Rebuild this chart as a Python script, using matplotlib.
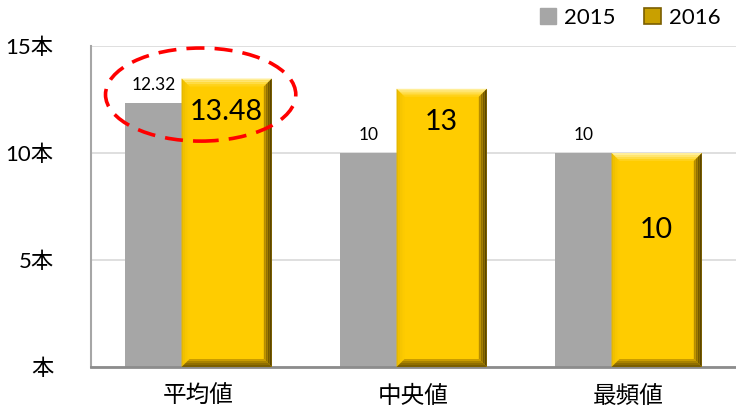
import numpy as np
import matplotlib.pyplot as plt
from matplotlib.patches import Polygon, Ellipse, Patch

plt.rcParams['font.family'] = ['Lato', 'Noto Sans CJK JP', 'DejaVu Sans']

categories = ['平均値', '中央値', '最頻値']
values_2015 = [12.32, 10, 10]
values_2016 = [13.48, 13, 10]
labels_2015 = ['12.32', '10', '10']
labels_2016 = ['13.48', '13', '10']
y_ticks = [0, 5, 10, 15]
y_tick_labels = ['本', '5本', '10本', '15本']

GRAY = '#A6A6A6'
GOLD = '#FFCC00'

W, H, DPI = 736, 411, 100
fig = plt.figure(figsize=(W / DPI, H / DPI), dpi=DPI)
ax = fig.add_axes([91 / W, 1 - 367 / H, (736 - 91) / W, (367 - 46) / H])

x = np.arange(len(categories))
bar_w = 0.42
off = 0.131

ax.set_xlim(-0.5, 2.5)
ax.set_ylim(0, 15)

# pixels per data unit, for bevels and label offsets
px_x = (736 - 91) / 3.0
px_y = (367 - 46) / 15.0

ax.bar(x - off, values_2015, bar_w, color=GRAY, zorder=2)


def bevel_band(l, r, v, d0, d1, side):
    # quad between inset d0 and d1 (pixels) on one side of the bar
    a0, b0 = d0 / px_x, d0 / px_y
    a1, b1 = d1 / px_x, d1 / px_y
    if side == 'top':
        return [(l + a0, v - b0), (r - a0, v - b0), (r - a1, v - b1), (l + a1, v - b1)]
    if side == 'bottom':
        return [(l + a0, b0), (r - a0, b0), (r - a1, b1), (l + a1, b1)]
    if side == 'left':
        return [(l + a0, b0), (l + a0, v - b0), (l + a1, v - b1), (l + a1, b1)]
    return [(r - a0, b0), (r - a0, v - b0), (r - a1, v - b1), (r - a1, b1)]


bev = 8
steps = 4
shades = {
    'top': ['#FFEE99', '#FFE570', '#FFDC45', '#FFD21A'],
    'left': ['#E6B800', '#F0C000', '#F7C600', '#FCCA00'],
    'bottom': ['#7A5E00', '#8F6E00', '#A88200', '#C99C00'],
    'right': ['#5C4600', '#755A00', '#937100', '#B68C00'],
}
for xi, v in zip(x + off, values_2016):
    l, r = xi - bar_w / 2, xi + bar_w / 2
    ax.add_patch(Polygon([(l, 0), (r, 0), (r, v), (l, v)], closed=True,
                         facecolor=GOLD, edgecolor='none', zorder=3))
    for side in ['top', 'left', 'bottom', 'right']:
        for k in range(steps):
            d0 = bev * k / steps
            d1 = bev * (k + 1) / steps
            ax.add_patch(Polygon(bevel_band(l, r, v, d0, d1, side), closed=True,
                                 facecolor=shades[side][k], edgecolor='none', zorder=3))

# data labels
for xi, v, t in zip(x, values_2015, labels_2015):
    gx = xi - off - bar_w / 2 + off
    ax.text(gx, v + 18 / px_y, t, ha='center', va='center', fontsize=12.5, zorder=5)
label_drop = [33, 33, 77]
for xi, v, t, d in zip(x + off, values_2016, labels_2016, label_drop):
    ax.text(xi, v - d / px_y, t, ha='center', va='center', fontsize=20.5, zorder=5)

# highlight ellipse
ax.add_patch(Ellipse((0.01, 12.73), 0.885, 4.35, fill=False, edgecolor='#FF0000',
                     linewidth=2.6, linestyle=(0, (5, 2.8)), zorder=6, clip_on=False))

ax.set_yticks(y_ticks)
ax.set_yticklabels(y_tick_labels, fontsize=16)
ax.set_xticks(x)
ax.set_xticklabels(categories, fontsize=17)
ax.tick_params(axis='both', length=0)
ax.tick_params(axis='y', pad=27)
ax.tick_params(axis='x', pad=13)
ax.grid(axis='y', color='#D9D9D9', linewidth=1.2, zorder=0)
ax.set_axisbelow(True)
for s in ['top', 'right']:
    ax.spines[s].set_visible(False)
ax.spines['left'].set_color('#A6A6A6')
ax.spines['left'].set_linewidth(1.5)
ax.spines['bottom'].set_color('#8C8C8C')
ax.spines['bottom'].set_linewidth(2)

handles = [Patch(facecolor=GRAY, edgecolor=GRAY, label='2015'),
           Patch(facecolor='#C9A000', edgecolor='#7A5E00', linewidth=1.2, label='2016')]
fig.legend(handles=handles, loc='center right', bbox_to_anchor=(1.0, 1 - 18 / H),
           ncol=2, frameon=False, fontsize=16, handlelength=0.75, handleheight=0.75,
           handletextpad=0.35, columnspacing=1.3, borderaxespad=0.3)

fig.savefig('out.png', dpi=DPI)
